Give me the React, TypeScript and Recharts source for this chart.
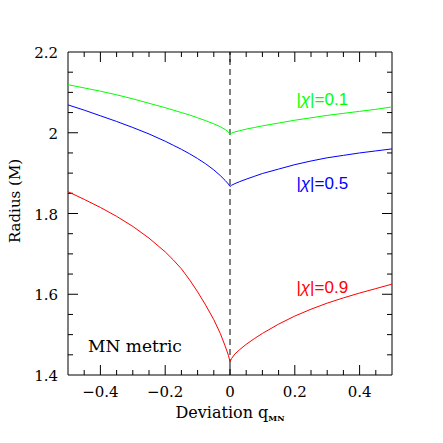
import React from 'react';
import { LineChart, Line, XAxis, YAxis, ReferenceLine, ReferenceArea, ReferenceDot } from 'recharts';

// deviation parameter q_MN and radius (M) for the three spins
const qValues = [-0.5, -0.45, -0.4, -0.35, -0.3, -0.25, -0.2, -0.175, -0.15, -0.125, -0.1, -0.075, -0.05, -0.03, -0.015, -0.005, 0, 0.005, 0.015, 0.03, 0.05, 0.075, 0.1, 0.15, 0.2, 0.25, 0.3, 0.35, 0.4, 0.45, 0.5];
const chi01 = [2.119, 2.111, 2.103, 2.094, 2.084, 2.073, 2.062, 2.056, 2.05, 2.044, 2.037, 2.03, 2.022, 2.015, 2.008, 2.002, 1.996, 1.999, 2.002, 2.005, 2.009, 2.013, 2.017, 2.024, 2.031, 2.037, 2.043, 2.048, 2.053, 2.058, 2.064];
const chi05 = [2.069, 2.056, 2.042, 2.028, 2.013, 1.997, 1.979, 1.969, 1.959, 1.948, 1.936, 1.923, 1.908, 1.894, 1.882, 1.873, 1.867, 1.87, 1.874, 1.879, 1.885, 1.892, 1.899, 1.91, 1.921, 1.93, 1.938, 1.944, 1.95, 1.955, 1.96];
const chi09 = [1.854, 1.835, 1.815, 1.793, 1.768, 1.739, 1.705, 1.685, 1.663, 1.636, 1.606, 1.573, 1.537, 1.503, 1.472, 1.449, 1.433, 1.441, 1.452, 1.463, 1.476, 1.49, 1.503, 1.526, 1.546, 1.563, 1.578, 1.591, 1.603, 1.614, 1.625];

const xMinor = [-0.45, -0.35, -0.3, -0.25, -0.15, -0.1, -0.05, 0.05, 0.1, 0.15, 0.25, 0.3, 0.35, 0.45];
const xMajor = [-0.4, -0.2, 0, 0.2, 0.4];
const yMinor = [1.45, 1.5, 1.55, 1.65, 1.7, 1.75, 1.85, 1.9, 1.95, 2.05, 2.1, 2.15];
const yMajor = [1.6, 1.8, 2];
const xLabels = [-0.4, -0.2, 0, 0.2, 0.4];
const yLabels = [1.4, 1.6, 1.8, 2, 2.2];

const series = [
  { key: 'chi01', value: '0.1', color: '#00ff00', at: [0.205, 2.068] },
  { key: 'chi05', value: '0.5', color: '#0000ff', at: [0.205, 1.861] },
  { key: 'chi09', value: '0.9', color: '#ff0000', at: [0.205, 1.604] },
];

const data = qValues.map((q, i) => ({ q, chi01: chi01[i], chi05: chi05[i], chi09: chi09[i] }));

const X_DOMAIN = [-0.5, 0.5];
const Y_DOMAIN = [1.4, 2.2];

const W = 443;
const H = 443;
const PLOT_LEFT = 68;
const PLOT_RIGHT = 392;
const PLOT_TOP = 52;
const PLOT_BOTTOM = 375;
const Y_AXIS_W = 60;
const X_AXIS_H = 30;
const MAJOR = 10;
const MINOR = 5;
const SERIF = '"DejaVu Serif", serif';
const SANS = '"Liberation Sans", Arial, sans-serif';

// tick lengths in data units so they can go through the chart's scales
const perPxX = (X_DOMAIN[1] - X_DOMAIN[0]) / (PLOT_RIGHT - PLOT_LEFT);
const perPxY = (Y_DOMAIN[1] - Y_DOMAIN[0]) / (PLOT_BOTTOM - PLOT_TOP);

const fmt = (v: number) => (v < 0 ? '\u2212' + String(-v) : String(v));

function XTick(props: any) {
  const { x, payload } = props;
  return (
    <text x={x} y={PLOT_BOTTOM + 22} textAnchor="middle" fontFamily={SERIF} fontSize={15} fill="#000">
      {fmt(payload.value)}
    </text>
  );
}

function YTick(props: any) {
  const { y, payload } = props;
  return (
    <text x={PLOT_LEFT - 10} y={y + 6} textAnchor="end" fontFamily={SERIF} fontSize={15} fill="#000">
      {fmt(payload.value)}
    </text>
  );
}

const viewPoint = (p: any) => {
  const vb = p.viewBox || {};
  return [vb.x + (vb.width || 0) / 2, vb.y + (vb.height || 0) / 2];
};

const chiLabel = (value: string, color: string) => (p: any) => {
  const [cx, cy] = viewPoint(p);
  return (
    <text x={cx} y={cy} fill={color} fontFamily={SANS} fontSize={17}>
      |<tspan fontStyle="italic">χ</tspan>|=<tspan>{value}</tspan>
    </text>
  );
};

const plainLabel = (text: string) => (p: any) => {
  const [cx, cy] = viewPoint(p);
  return (
    <text x={cx} y={cy} fill="#000" fontFamily={SERIF} fontSize={17}>
      {text}
    </text>
  );
};

function xTickSegments(values: number[], len: number) {
  const dy = len * perPxY;
  return values.flatMap((v) => [
    <ReferenceLine key={'xb' + v} segment={[{ x: v, y: Y_DOMAIN[0] }, { x: v, y: Y_DOMAIN[0] + dy }]} stroke="#000" />,
    <ReferenceLine key={'xt' + v} segment={[{ x: v, y: Y_DOMAIN[1] }, { x: v, y: Y_DOMAIN[1] - dy }]} stroke="#000" />,
  ]);
}

function yTickSegments(values: number[], len: number) {
  const dx = len * perPxX;
  return values.flatMap((v) => [
    <ReferenceLine key={'yl' + v} segment={[{ x: X_DOMAIN[0], y: v }, { x: X_DOMAIN[0] + dx, y: v }]} stroke="#000" />,
    <ReferenceLine key={'yr' + v} segment={[{ x: X_DOMAIN[1], y: v }, { x: X_DOMAIN[1] - dx, y: v }]} stroke="#000" />,
  ]);
}

export default function App() {
  return (
    <div style={{ position: 'absolute', left: 0, top: 0, width: W, height: H, background: '#fff' }}>
      <LineChart
        width={W}
        height={H}
        data={data}
        margin={{ top: PLOT_TOP, right: W - PLOT_RIGHT, left: PLOT_LEFT - Y_AXIS_W, bottom: H - PLOT_BOTTOM - X_AXIS_H }}
      >
        <XAxis
          dataKey="q"
          type="number"
          domain={X_DOMAIN}
          ticks={xLabels}
          interval={0}
          height={X_AXIS_H}
          tick={<XTick />}
          tickLine={false}
          axisLine={false}
          allowDataOverflow
        />
        <YAxis
          type="number"
          domain={Y_DOMAIN}
          ticks={yLabels}
          interval={0}
          width={Y_AXIS_W}
          tick={<YTick />}
          tickLine={false}
          axisLine={false}
          allowDataOverflow
        />
        <ReferenceArea x1={X_DOMAIN[0]} x2={X_DOMAIN[1]} y1={Y_DOMAIN[0]} y2={Y_DOMAIN[1]} fill="none" fillOpacity={0} stroke="#000" strokeWidth={1} />
        {xTickSegments(xMajor, MAJOR)}
        {xTickSegments(xMinor, MINOR)}
        {yTickSegments(yMajor, MAJOR)}
        {yTickSegments(yMinor, MINOR)}
        <ReferenceLine x={0} stroke="#000" strokeDasharray="6 4" />
        {series.map((s) => (
          <Line
            key={s.key}
            type="linear"
            dataKey={s.key}
            stroke={s.color}
            strokeWidth={1}
            dot={false}
            activeDot={false}
            isAnimationActive={false}
          />
        ))}
        {series.map((s) => (
          <ReferenceDot
            key={'lbl-' + s.key}
            x={s.at[0]}
            y={s.at[1]}
            r={0}
            fill="none"
            stroke="none"
            label={{ content: chiLabel(s.value, s.color) }}
          />
        ))}
        <ReferenceDot x={-0.438} y={1.456} r={0} fill="none" stroke="none" label={{ content: plainLabel('MN metric') }} />
      </LineChart>
      <svg width={W} height={H} style={{ position: 'absolute', left: 0, top: 0, pointerEvents: 'none' }}>
        <text transform="translate(20, 201) rotate(-90)" textAnchor="middle" fontFamily={SERIF} fontSize={15} fill="#000">
          Radius (M)
        </text>
        <text x={(PLOT_LEFT + PLOT_RIGHT) / 2} y={418} textAnchor="middle" fontFamily={SERIF} fontSize={16} fill="#000">
          Deviation q
          <tspan fontSize={8} fontWeight="bold" dy={3}>MN</tspan>
        </text>
      </svg>
    </div>
  );
}
